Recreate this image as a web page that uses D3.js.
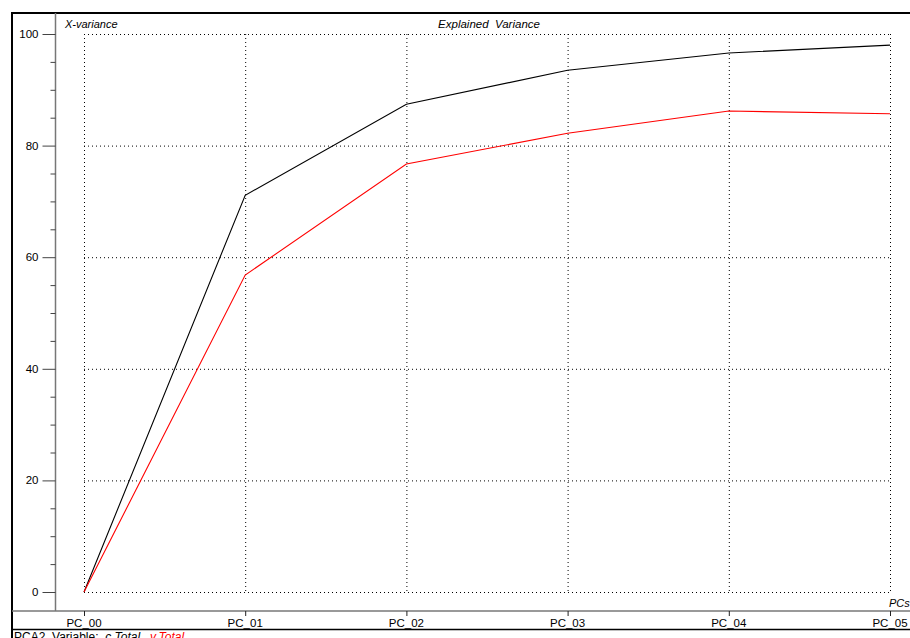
<!DOCTYPE html>
<html>
<head>
<meta charset="utf-8">
<script src="https://cdn.jsdelivr.net/npm/d3@7"></script>
<style>
body { margin: 0; background: #fff; }
text { font-family: "Liberation Sans", Arial, sans-serif; }
</style>
</head>
<body>
<script>
var w = 910, h = 638;

// data
var pcs = ["PC_00", "PC_01", "PC_02", "PC_03", "PC_04", "PC_05"];
var cTotal = [0, 71.1, 87.4, 93.5, 96.6, 98.0];
var yTotal = [0, 56.8, 76.7, 82.2, 86.2, 85.7];
var yTicks = [0, 20, 40, 60, 80, 100];
var yMinor = d3.range(0, 101, 5);

var svgo = d3.select("body").append("svg")
    .attr("width", w)
    .attr("height", h);

var x = d3.scalePoint().domain(pcs).range([84, 890]);
var y = d3.scaleLinear().domain([0, 100]).range([592, 34]);

// grid
var grid = svgo.append("g").attr("class", "grid");
grid.selectAll("line.h").data(yTicks).enter().append("line")
    .attr("x1", 84).attr("x2", 890)
    .attr("y1", function(d){ return y(d) + 0.5; })
    .attr("y2", function(d){ return y(d) + 0.5; })
    .style("stroke", "#000")
    .style("stroke-dasharray", "1,3");
grid.selectAll("line.v").data(pcs).enter().append("line")
    .attr("x1", function(d){ return x(d) + 0.5; })
    .attr("x2", function(d){ return x(d) + 0.5; })
    .attr("y1", 34).attr("y2", 592)
    .style("stroke", "#000")
    .style("stroke-dasharray", "1,3");

// frame lines
svgo.append("line").attr("x1", 12).attr("x2", w).attr("y1", 13).attr("y2", 13)
    .style("stroke", "#000").style("stroke-width", 2);
svgo.append("line").attr("x1", 12).attr("x2", 12).attr("y1", 12).attr("y2", h)
    .style("stroke", "#000").style("stroke-width", 2);
svgo.append("line").attr("x1", 12).attr("x2", w).attr("y1", 629.5).attr("y2", 629.5)
    .style("stroke", "#000").style("stroke-width", 1.5);

// y axis
var yAxis = svgo.append("g").attr("transform", "translate(55.5,0)");
yAxis.append("line").attr("x1", 0).attr("x2", 0).attr("y1", 13).attr("y2", 611)
    .style("stroke", "#777").style("stroke-width", 1.5);
yAxis.selectAll("line.minor").data(yMinor).enter().append("line")
    .attr("x1", function(d){ return d % 20 === 0 ? -13 : -5; })
    .attr("x2", 0)
    .attr("y1", function(d){ return y(d) + 0.5; })
    .attr("y2", function(d){ return y(d) + 0.5; })
    .style("stroke", "#444");
yAxis.selectAll("text").data(yTicks).enter().append("text")
    .attr("x", -17)
    .attr("y", function(d){ return y(d) + 4; })
    .attr("text-anchor", "end")
    .style("font-size", "11.5px")
    .text(function(d){ return d; });

// x axis
var xAxis = svgo.append("g").attr("transform", "translate(0,611)");
xAxis.append("line").attr("x1", 12).attr("x2", w).attr("y1", 0).attr("y2", 0)
    .style("stroke", "#777").style("stroke-width", 1.5);
xAxis.selectAll("line.t").data(pcs).enter().append("line")
    .attr("x1", function(d){ return x(d) + 0.5; })
    .attr("x2", function(d){ return x(d) + 0.5; })
    .attr("y1", 0).attr("y2", 5)
    .style("stroke", "#222");
xAxis.selectAll("text").data(pcs).enter().append("text")
    .attr("x", function(d){ return x(d); })
    .attr("y", 16)
    .attr("text-anchor", "middle")
    .style("font-size", "11.5px")
    .text(function(d){ return d; });

// titles
svgo.append("text").text("X-variance")
    .attr("x", 65).attr("y", 28)
    .style("font-size", "11px").style("font-style", "italic");
svgo.append("text").text("Explained  Variance")
    .attr("x", 489).attr("y", 28).attr("text-anchor", "middle")
    .style("font-size", "11.5px").style("font-style", "italic")
    .style("white-space", "pre");
svgo.append("text").text("PCs")
    .attr("x", 889).attr("y", 607)
    .style("font-size", "11px").style("font-style", "italic");

// lines
var line = d3.line()
    .x(function(d, i){ return x(pcs[i]); })
    .y(function(d){ return y(d); });

svgo.append("path").datum(cTotal).attr("d", line)
    .style("fill", "none").style("stroke", "#000").style("stroke-width", 1.1);
svgo.append("path").datum(yTotal).attr("d", line)
    .style("fill", "none").style("stroke", "#ff0000").style("stroke-width", 1.1);

// legend (cut off at the bottom edge, as in the original)
var leg = svgo.append("text").attr("x", 14).attr("y", 641)
    .style("font-size", "12px").style("white-space", "pre");
leg.append("tspan").text("PCA2  Variable:  ");
leg.append("tspan").text("c.Total,").style("font-style", "italic");
leg.append("tspan").text("  y.Total").style("font-style", "italic").style("fill", "#ff0000");
</script>
</body>
</html>
